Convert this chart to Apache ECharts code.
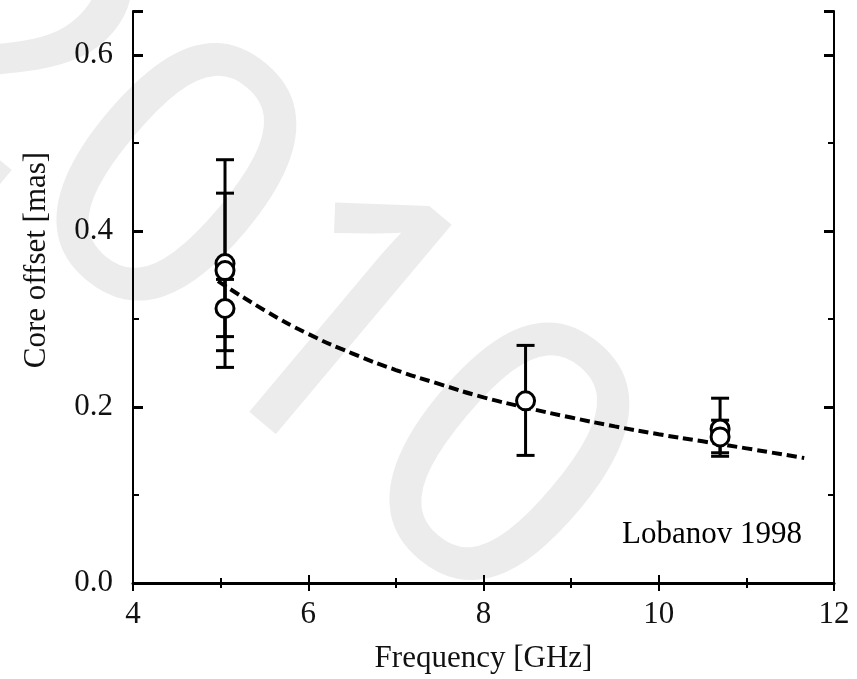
<!DOCTYPE html>
<html>
<head>
<meta charset="utf-8">
<script src="https://cdn.jsdelivr.net/npm/echarts@6/dist/echarts.min.js"></script>
<style>html,body{margin:0;padding:0;background:#fff}#c{width:857px;height:679px}</style>
</head>
<body>
<div id="c"></div>
<script>
// Measured core offsets: [frequency GHz, offset mas]
var pointFreq   = [5.05, 5.05, 5.05, 8.48, 10.70, 10.70];
var pointOffset = [0.363, 0.355, 0.312, 0.207, 0.175, 0.166];
var errLow      = [0.245, 0.264, 0.280, 0.145, 0.144, 0.148];
var errHigh     = [0.481, 0.443, 0.345, 0.270, 0.210, 0.185];
// Dashed fit curve
var fitFreq   = [4.97, 5.5, 6.0, 6.5, 7.0, 7.5, 8.0, 8.5, 9.0, 9.5, 10.0, 10.5, 11.0, 11.66];
var fitOffset = [0.343, 0.310, 0.283, 0.261, 0.242, 0.226, 0.211, 0.199, 0.188, 0.178, 0.169, 0.161, 0.153, 0.142];
var xTicks = [4, 6, 8, 10, 12];
var yTicks = [0.0, 0.2, 0.4, 0.6];

var FONT = 'Liberation Serif';
var points = pointFreq.map(function (f, i) { return [f, pointOffset[i]]; });
var errs = pointFreq.map(function (f, i) { return [f, errLow[i], errHigh[i]]; });
var fit = fitFreq.map(function (f, i) { return [f, fitOffset[i]]; });

function yFmt(v) {
  for (var i = 0; i < yTicks.length; i++) if (Math.abs(v - yTicks[i]) < 1e-6) return yTicks[i].toFixed(1);
  return '';
}
function xFmt(v) { return xTicks.indexOf(v) >= 0 ? String(v) : ''; }

var chart = echarts.init(document.getElementById('c'));
chart.setOption({
  animation: false,
  backgroundColor: '#fff',
  grid: { left: 133, right: 23, top: 11, bottom: 92 },
  xAxis: [
    { type: 'value', min: 4, max: 12, interval: 2, position: 'bottom',
      name: 'Frequency [GHz]', nameLocation: 'middle', nameGap: 60,
      nameTextStyle: { fontFamily: FONT, fontSize: 31, color: '#111' },
      axisLine: { show: true, lineStyle: { color: '#000', width: 2 } },
      axisTick: { inside: true, length: 8, lineStyle: { color: '#000', width: 2 } },
      minorTick: { show: true, splitNumber: 2, length: 5, lineStyle: { color: '#000', width: 2 } },
      splitLine: { show: false },
      axisLabel: { fontFamily: FONT, fontSize: 31, color: '#111', margin: 16, formatter: xFmt } },
    { type: 'value', min: 4, max: 12, interval: 2, position: 'top',
      axisLine: { show: true, lineStyle: { color: '#000', width: 3 } },
      axisTick: { inside: true, length: 8, lineStyle: { color: '#000', width: 2 } },
      minorTick: { show: true, splitNumber: 2, length: 5, lineStyle: { color: '#000', width: 2 } },
      splitLine: { show: false }, axisLabel: { show: false } }
  ],
  yAxis: [
    { type: 'value', min: 0, max: 0.65, interval: 0.2, position: 'left',
      axisLine: { show: true, lineStyle: { color: '#000', width: 2 } },
      axisTick: { inside: true, length: 10, lineStyle: { color: '#000', width: 3 } },
      splitLine: { show: false },
      axisLabel: { fontFamily: FONT, fontSize: 31, color: '#111', margin: 20, formatter: yFmt } },
    { type: 'value', min: 0, max: 0.65, interval: 0.1, position: 'left',
      axisLine: { show: false },
      axisTick: { inside: true, length: 6, lineStyle: { color: '#000', width: 2 } },
      splitLine: { show: false }, axisLabel: { show: false } },
    { type: 'value', min: 0, max: 0.65, interval: 0.2, position: 'right',
      axisLine: { show: true, lineStyle: { color: '#000', width: 2 } },
      axisTick: { inside: true, length: 10, lineStyle: { color: '#000', width: 3 } },
      splitLine: { show: false }, axisLabel: { show: false } },
    { type: 'value', min: 0, max: 0.65, interval: 0.1, position: 'right',
      axisLine: { show: false },
      axisTick: { inside: true, length: 6, lineStyle: { color: '#000', width: 2 } },
      splitLine: { show: false }, axisLabel: { show: false } }
  ],
  graphic: [
    { type: 'text', z: -10, x: 242, y: 263, rotation: -40 * Math.PI / 180,
      style: { text: '2010', fontFamily: 'Noto Sans', fontSize: 380, fill: '#ececec',
               stroke: '#ececec', lineWidth: 2, align: 'center', verticalAlign: 'middle' } },
    { type: 'text', x: 37, y: 260, rotation: Math.PI / 2,
      style: { text: 'Core offset [mas]', fontFamily: FONT, fontSize: 31, fill: '#111',
               align: 'center', verticalAlign: 'middle' } },
    { type: 'text', x: 802, y: 535,
      style: { text: 'Lobanov 1998', fontFamily: FONT, fontSize: 31, fill: '#000',
               align: 'right', verticalAlign: 'middle' } }
  ],
  series: [
    { type: 'line', data: fit, smooth: true, symbol: 'none', z: 2,
      lineStyle: { color: '#000', width: 4, type: [10, 5] } },
    { type: 'custom', data: errs, z: 3,
      renderItem: function (params, api) {
        var x = api.value(0);
        var lo = api.coord([x, api.value(1)]);
        var hi = api.coord([x, api.value(2)]);
        var hw = 9;
        var st = { stroke: '#000', lineWidth: 3 };
        return { type: 'group', children: [
          { type: 'line', shape: { x1: lo[0], y1: lo[1], x2: hi[0], y2: hi[1] }, style: st },
          { type: 'line', shape: { x1: lo[0] - hw, y1: lo[1], x2: lo[0] + hw, y2: lo[1] }, style: st },
          { type: 'line', shape: { x1: hi[0] - hw, y1: hi[1], x2: hi[0] + hw, y2: hi[1] }, style: st }
        ] };
      } },
    { type: 'scatter', data: points, symbol: 'circle', symbolSize: 18, z: 4,
      itemStyle: { color: '#fff', borderColor: '#000', borderWidth: 3, opacity: 1 } }
  ]
});
</script>
</body>
</html>
